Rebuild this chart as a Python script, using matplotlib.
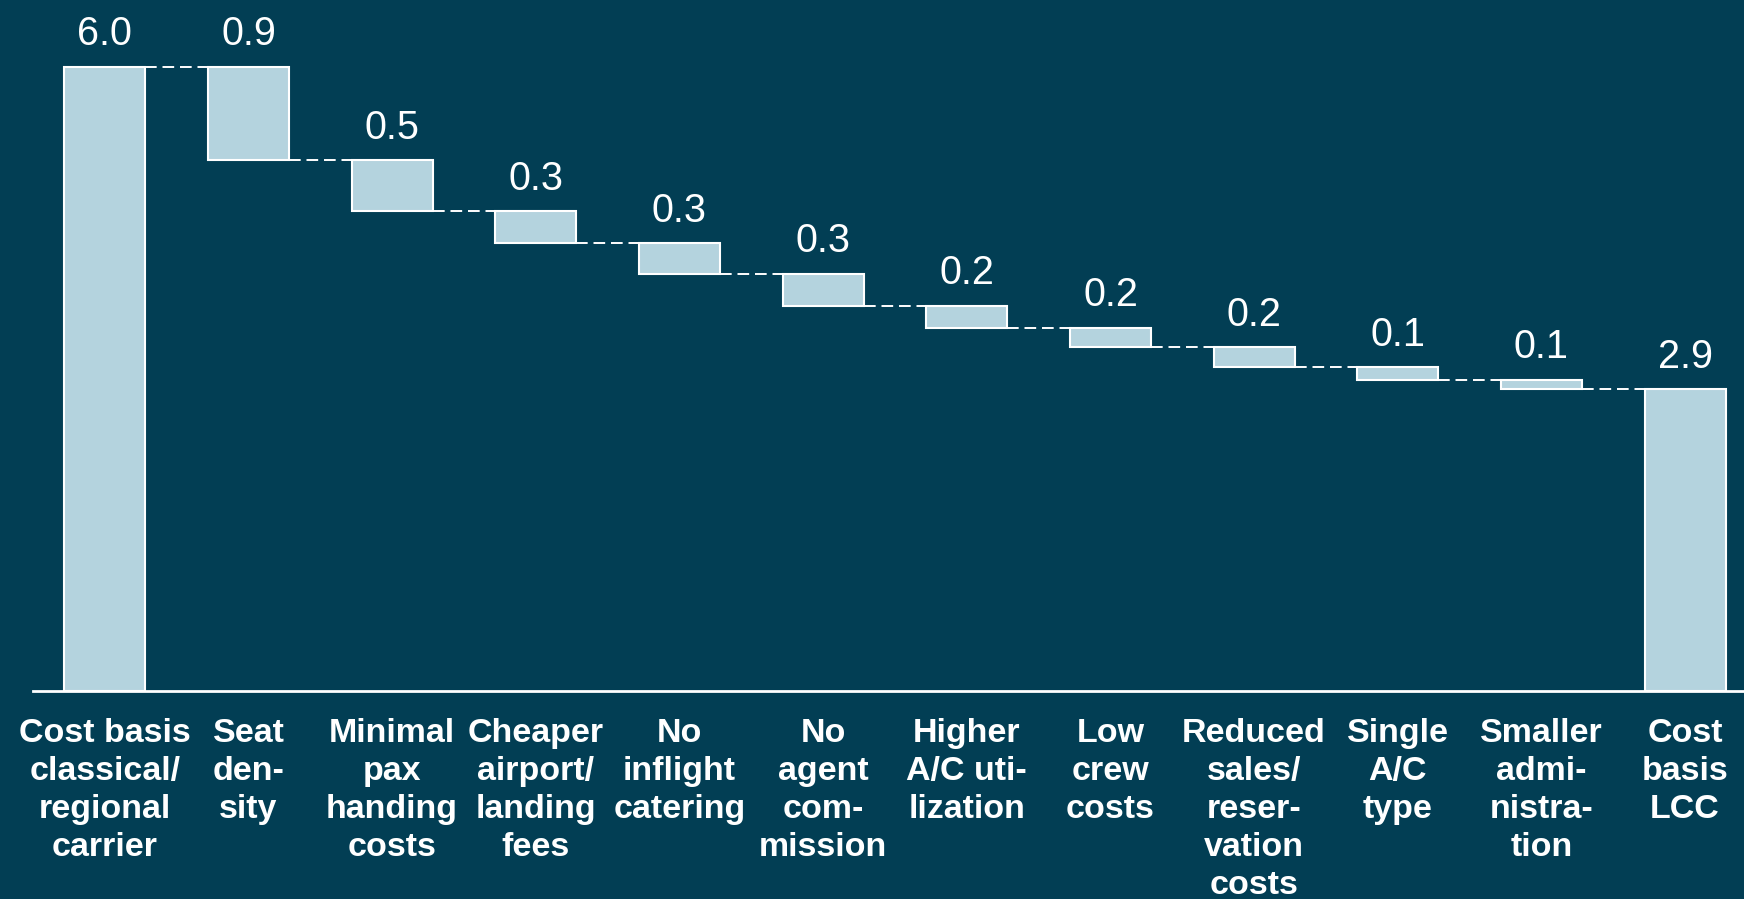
import numpy as np
import matplotlib.pyplot as plt

categories = ['Cost basis\nclassical/\nregional\ncarrier', 'Seat\nden-\nsity',
              'Minimal\npax\nhanding\ncosts', 'Cheaper\nairport/\nlanding\nfees',
              'No\ninflight\ncatering', 'No\nagent\ncom-\nmission',
              'Higher\nA/C uti-\nlization', 'Low\ncrew\ncosts',
              'Reduced\nsales/\nreser-\nvation\ncosts', 'Single\nA/C\ntype',
              'Smaller\nadmi-\nnistra-\ntion', 'Cost\nbasis\nLCC']
start_value = 6.0
reductions = [0.9, 0.49, 0.31, 0.29, 0.31, 0.21, 0.19, 0.19, 0.12, 0.09]
end_value = 2.9

bg = '#023e54'
bar_color = '#b4d3de'

plt.rcParams['font.family'] = ['Liberation Sans', 'DejaVu Sans']

fig = plt.figure(figsize=(17.44, 8.99), dpi=100, facecolor=bg)
ax = fig.add_axes([0.0189, 0.2317, 0.9811, 0.7683])
ax.set_facecolor(bg)

# running totals for the waterfall
tops = start_value - np.concatenate([[0], np.cumsum(reductions)])
bottoms = list(tops[1:])
heights = [start_value] + reductions + [end_value]
bases = [0] + bottoms + [0]
labels = [start_value] + reductions + [end_value]

x = np.arange(len(categories))
w = 0.565
ax.bar(x, heights, bottom=bases, width=w, color=bar_color,
       edgecolor='white', linewidth=1.5, zorder=3)

# dashed connectors between bars
levels = [start_value] + bottoms
for i, lv in enumerate(levels):
    ax.plot([x[i] + w / 2, x[i + 1] - w / 2], [lv, lv], color='white',
            lw=1.4, ls=(0, (6, 3)), zorder=2)

for i in range(len(x)):
    ax.text(x[i], bases[i] + heights[i] + 0.13, f'{labels[i]:.1f}',
            ha='center', va='bottom', color='white', fontsize=28.5)

ax.set_xlim(-0.5, 11.41)
ax.set_ylim(0, 6.64)
ax.set_yticks([])
ax.set_xticks(x)
ax.set_xticklabels(categories, color='white', fontsize=24.5,
                   fontweight='bold', linespacing=1.29, va='top')
ax.tick_params(axis='x', length=0, pad=20)
for s in ['top', 'left', 'right']:
    ax.spines[s].set_visible(False)
ax.spines['bottom'].set_color('white')
ax.spines['bottom'].set_linewidth(2)

fig.savefig('out.png', dpi=100, facecolor=bg)
